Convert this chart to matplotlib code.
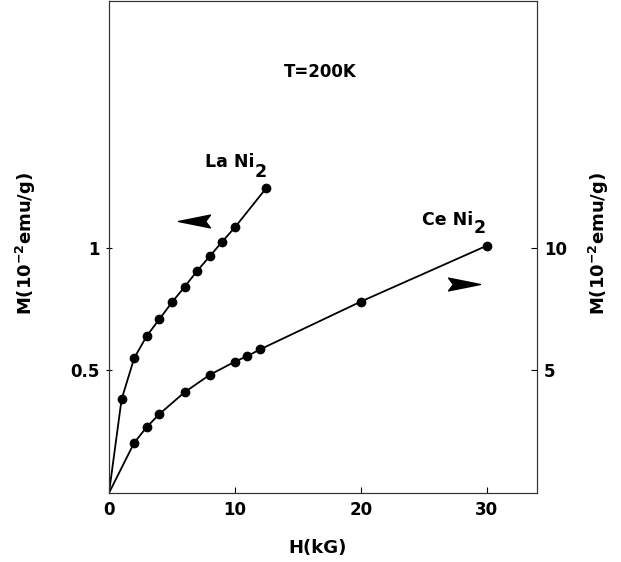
import matplotlib
matplotlib.use("Agg")
import matplotlib.pyplot as plt
from matplotlib.path import Path

plt.rcParams["font.family"] = ["DejaVu Sans"]
plt.rcParams["font.weight"] = "bold"
plt.rcParams["mathtext.fontset"] = "dejavusans"
plt.rcParams["mathtext.default"] = "bf"

# Magnetization isotherms at T = 200 K
la_H = [0, 1, 2, 3, 4, 5, 6, 7, 8, 9, 10, 12.5]
la_M = [0, 0.382, 0.55, 0.641, 0.709, 0.778, 0.841, 0.906, 0.966, 1.026, 1.084, 1.245]   # left axis

ce_H = [0, 2, 3, 4, 6, 8, 10, 11, 12, 20, 30]
ce_M = [0, 2.05, 2.69, 3.22, 4.11, 4.82, 5.36, 5.59, 5.86, 7.81, 10.09]                # right axis

x_ticks = [0, 10, 20, 30]
left_ticks = [0.5, 1]
left_ticklabels = ["0.5", "1"]
right_ticks = [5, 10]

fig = plt.figure(figsize=(6.21, 5.62), dpi=100)
ax = fig.add_axes([0.1755, 0.1228, 0.6892, 0.8754])
ax2 = ax.twinx()

ax.set_xlim(0, 34)
ax.set_ylim(0, 2.008)
ax2.set_ylim(0, 20.08)

line_kw = dict(color="black", lw=1.3, marker="o", markersize=6, markevery=slice(1, None))
ax.plot(la_H, la_M, **line_kw)
ax2.plot(ce_H, ce_M, **line_kw)

# arrowheads showing which axis each curve belongs to
codes = [Path.MOVETO, Path.LINETO, Path.LINETO, Path.LINETO, Path.CLOSEPOLY]
left_head = Path([(-1, 0), (1, 0.4), (0.7, 0), (1, -0.4), (-1, 0)], codes)
right_head = Path([(1, 0), (-1, 0.4), (-0.7, 0), (-1, -0.4), (1, 0)], codes)
ax.plot([6.75], [1.112], marker=left_head, markersize=23, color="black", linestyle="none")
ax2.plot([28.2], [8.53], marker=right_head, markersize=23, color="black", linestyle="none")

txt_kw = dict(fontsize=12.5, fontweight="bold", ha="left", va="baseline")
ax.text(7.62, 1.331, "La Ni", **txt_kw)
ax.text(11.55, 1.290, "2", **txt_kw)
ax2.text(24.84, 10.94, "Ce Ni", **txt_kw)
ax2.text(29.0, 10.61, "2", **txt_kw)
ax.text(16.75, 1.697, "T=200K", fontsize=12, fontweight="bold", ha="center", va="baseline")

for a in (ax, ax2):
    for s in a.spines.values():
        s.set_linewidth(0.8)
        s.set_color("#333333")

ax.set_xticks(x_ticks)
ax.set_xticklabels([str(t) for t in x_ticks])
ax.set_yticks(left_ticks)
ax.set_yticklabels(left_ticklabels)
ax2.set_yticks(right_ticks)
ax2.set_yticklabels([str(t) for t in right_ticks])

ax.tick_params(axis="both", direction="in", length=4, width=0.8, labelsize=12, pad=6)
ax.tick_params(axis="y", direction="inout", length=5, pad=4)
ax2.tick_params(axis="y", direction="in", length=4, width=0.8, labelsize=12, pad=5)

ax.set_xlabel("H(kG)", fontsize=13, fontweight="bold")
ax.xaxis.set_label_coords(0.487, -0.093)

ylab = r"M(10$^{\mathbf{-}2}$emu/g)"
fig.text(26 / 621, 1 - 243 / 562, ylab, fontsize=13, fontweight="bold",
         rotation=90, ha="center", va="center")
fig.text(599 / 621, 1 - 243 / 562, ylab, fontsize=13, fontweight="bold",
         rotation=90, ha="center", va="center")

fig.savefig("out.png", dpi=100, facecolor="white")
